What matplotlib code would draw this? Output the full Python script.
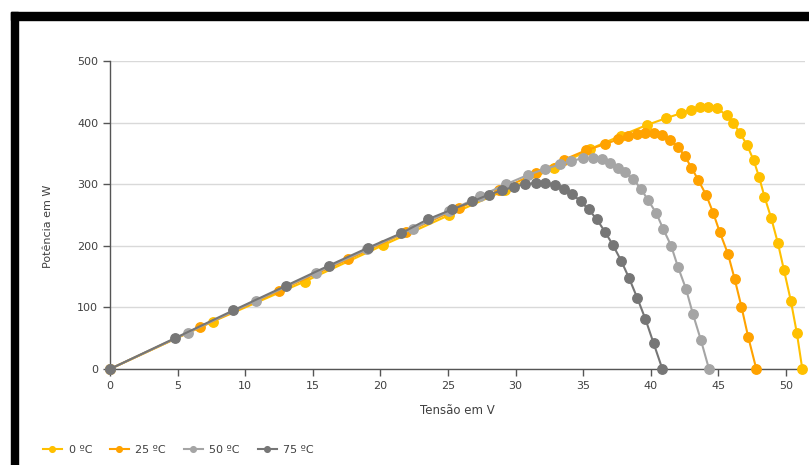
import matplotlib
matplotlib.use('Agg')
import matplotlib.pyplot as plt
from matplotlib.patches import Rectangle

# tensão (V) e potência (W) para cada temperatura
v_0 = [0, 7.6, 14.4, 20.2, 25.1, 29.2, 32.8, 35.5, 37.8, 39.7, 41.1, 42.2, 43.0, 43.6, 44.25,
       44.9, 45.6, 46.1, 46.6, 47.1, 47.6, 48.0, 48.4, 48.9, 49.4, 49.85, 50.35, 50.8, 51.2]
p_0 = [0, 77, 142, 201, 250, 290, 326, 357, 379, 396, 407, 415, 421, 425, 426,
       423, 412, 399, 383, 364, 339, 312, 280, 245, 204, 160, 111, 58, 0]

v_25 = [0, 6.66, 12.5, 17.6, 21.9, 25.8, 28.8, 31.5, 33.6, 35.2, 36.6, 37.6, 38.3, 38.95, 39.6,
        40.2, 40.8, 41.4, 42.0, 42.5, 43.0, 43.5, 44.1, 44.6, 45.1, 45.7, 46.2, 46.7, 47.2, 47.8]
p_25 = [0, 68, 127, 178, 222, 261, 290, 318, 340, 355, 365, 373, 378, 381, 383.5,
        383.5, 380, 372, 361, 346, 327, 307, 282, 254, 222, 187, 146, 101, 52, 0]

v_50 = [0, 5.75, 10.8, 15.2, 19.0, 22.4, 25.1, 27.4, 29.3, 30.9, 32.2, 33.3, 34.1, 35.0, 35.75,
        36.4, 37.0, 37.6, 38.1, 38.7, 39.25, 39.8, 40.4, 40.9, 41.5, 42.0, 42.6, 43.1, 43.7, 44.3]
p_50 = [0, 59, 111, 156, 194, 228, 256, 281, 300, 315, 325, 332, 338, 342, 343,
        341, 335, 327, 319, 308, 293, 274, 253, 228, 200, 166, 130, 90, 47, 0]

v_75 = [0, 4.8, 9.1, 13.0, 16.2, 19.1, 21.5, 23.5, 25.3, 26.8, 28.0, 29.0, 29.9, 30.7, 31.5,
        32.2, 32.9, 33.6, 34.2, 34.8, 35.4, 36.0, 36.6, 37.2, 37.8, 38.4, 39.0, 39.6, 40.2, 40.85]
p_75 = [0, 50, 95, 135, 168, 197, 220, 243, 259, 272, 283, 290, 296, 300, 302,
        302, 299, 293, 284, 272, 259, 243, 223, 201, 176, 147, 115, 81, 42, 0]

labels = ['0 ºC', '25 ºC', '50 ºC', '75 ºC']
colors = ['#FFC000', '#FFA200', '#A5A5A5', '#767676']

W, H = 809, 465
fig = plt.figure(figsize=(W / 100, H / 100), dpi=100)

# moldura preta (topo e esquerda)
fig.patches.append(Rectangle((11 / W, 0), 7 / W, 1 - 12 / H, transform=fig.transFigure,
                             color='black', zorder=0))
fig.patches.append(Rectangle((11 / W, 1 - 20 / H), 1, 8 / H, transform=fig.transFigure,
                             color='black', zorder=0))

ax = fig.add_axes([110 / W, (H - 369) / H, (805 - 110) / W, (369 - 61) / H])

series = [(v_0, p_0), (v_25, p_25), (v_50, p_50), (v_75, p_75)]
for (v, p), lab, c in zip(series, labels, colors):
    ax.plot(v, p, '-o', color=c, lw=1.5, ms=6.8, label=lab, clip_on=False, zorder=3)

ax.set_xlim(0, 51.4)
ax.set_ylim(0, 500)
ax.set_xticks(range(0, 55, 5))
ax.set_yticks(range(0, 600, 100))
ax.grid(axis='y', color='#d9d9d9', lw=1)
ax.set_axisbelow(True)
for s in ['top', 'right']:
    ax.spines[s].set_visible(False)
for s in ['left', 'bottom']:
    ax.spines[s].set_color('#555555')
    ax.spines[s].set_linewidth(1)
ax.tick_params(colors='#555555', labelcolor='#404040', labelsize=8, length=5, width=1)

fig.text(48 / W, 1 - 226 / H, 'Potência em W', rotation=90, ha='center', va='center',
         fontsize=8, color='#404040')
fig.text(457 / W, 1 - 410 / H, 'Tensão em V', ha='center', va='center',
         fontsize=8.5, color='#404040')

leg = fig.legend(loc='center left', bbox_to_anchor=(33 / W, 1 - 450 / H), ncol=4,
                 frameon=False, fontsize=8, handlelength=1.7, columnspacing=1.6,
                 handletextpad=0.6, markerscale=0.6)
for t in leg.get_texts():
    t.set_color('#404040')

fig.savefig('out.png', dpi=100)
